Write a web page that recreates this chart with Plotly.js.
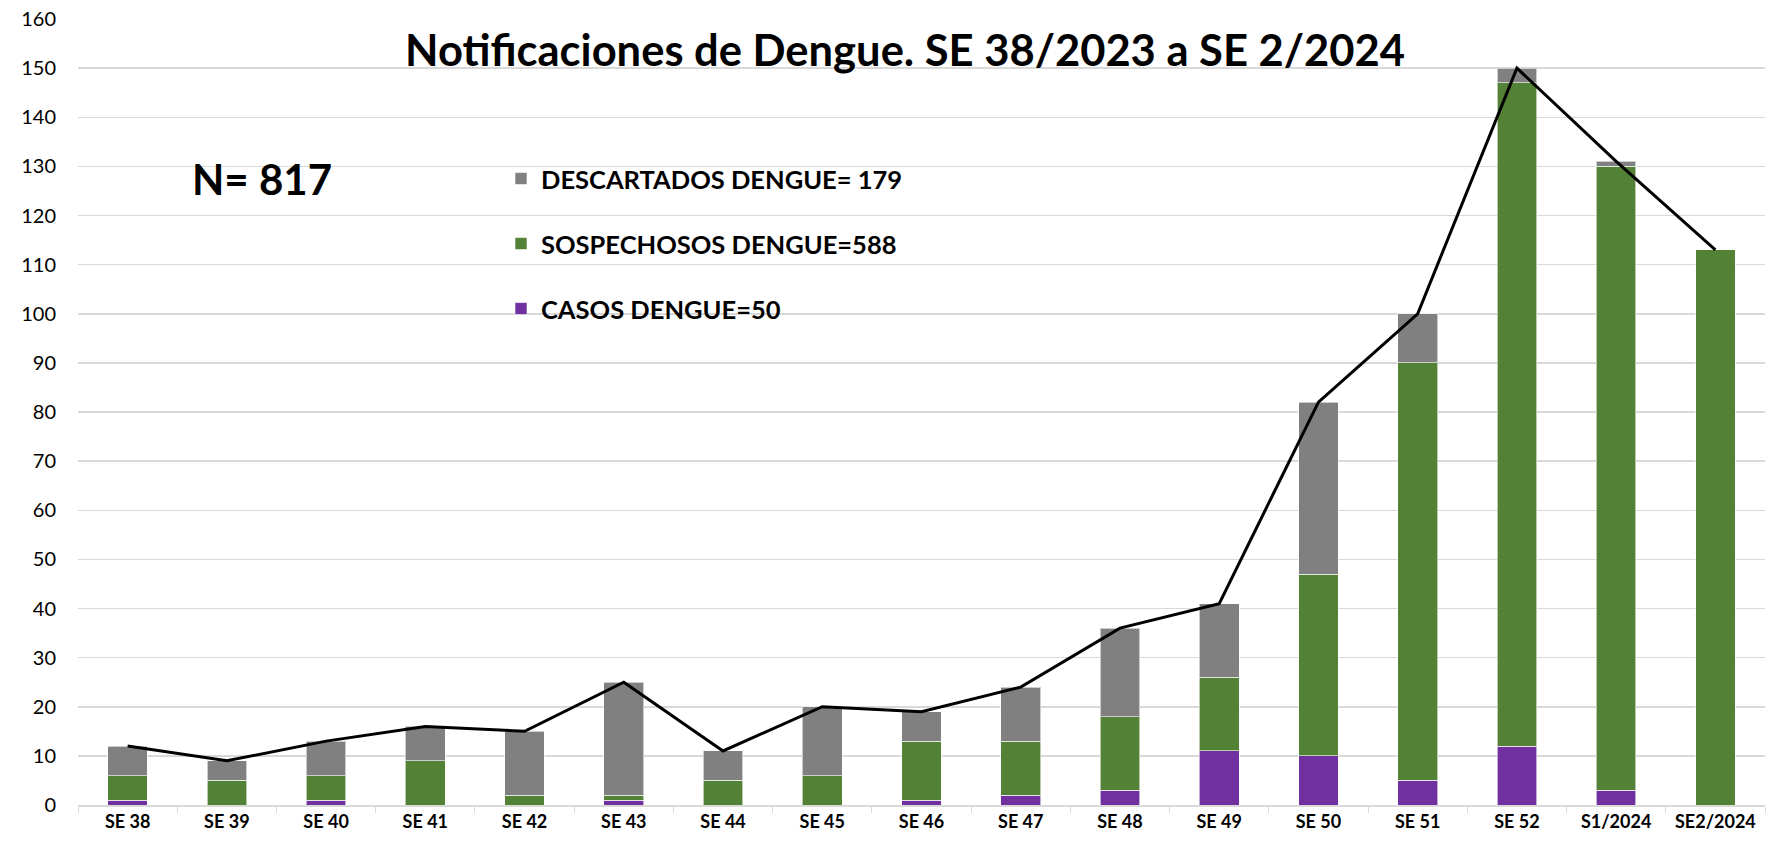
<!DOCTYPE html>
<html>
<head>
<meta charset="utf-8">
<script src="https://cdn.plot.ly/plotly-3.0.1.min.js"></script>
<style>html,body{margin:0;padding:0;background:#fff;}#chart{width:1780px;height:842px;}</style>
</head>
<body>
<div id="chart"></div>
<script>
const categories = ["SE 38","SE 39","SE 40","SE 41","SE 42","SE 43","SE 44","SE 45","SE 46","SE 47","SE 48","SE 49","SE 50","SE 51","SE 52","S1/2024","SE2/2024"];
const casos        = [1,0,1,0,0,1,0,0,1,2,3,11,10,5,12,3,0];
const sospechosos  = [5,5,5,9,2,1,5,6,12,11,15,15,37,85,135,127,113];
const descartados  = [6,4,7,7,13,23,6,14,6,11,18,15,35,10,3,1,0];
const totales      = [12,9,13,16,15,25,11,20,19,24,36,41,82,100,150,131,113];
const yTicks = [0,10,20,30,40,50,60,70,80,90,100,110,120,130,140,150,160];

const FONT = "Lato, 'Liberation Sans', sans-serif";
const barLine = {color: 'rgba(255,255,255,0.6)', width: 1};

const PL = 78, PR = 1765, PT = 19, PB = 805;
const px2x = p => (p - PL) / (PR - PL);
const px2y = p => (PB - p) / (PB - PT);

const traces = [
  {type:'bar', name:'CASOS DENGUE=50', x:categories, y:casos, marker:{color:'#7030A0', line:barLine}, legend:'legend3'},
  {type:'bar', name:'SOSPECHOSOS DENGUE=588', x:categories, y:sospechosos, marker:{color:'#538135', line:barLine}, legend:'legend2'},
  {type:'bar', name:'DESCARTADOS DENGUE= 179', x:categories, y:descartados, marker:{color:'#808080', line:barLine}, legend:'legend'},
  {type:'scatter', mode:'lines', name:'Total', x:categories, y:totales, line:{color:'#000000', width:3}, showlegend:false}
];

const legFont = {family:FONT, size:25.5, color:'#000', weight:'bold'};
function leg(yPix){
  return {x:px2x(501), xref:'paper', y:px2y(yPix), yref:'paper', yanchor:'middle', xanchor:'left',
          bgcolor:'rgba(0,0,0,0)', font:legFont, itemwidth:30, borderwidth:0};
}

const layout = {
  width:1780, height:842,
  margin:{l:PL, r:1780-PR, t:PT, b:842-PB, autoexpand:false},
  paper_bgcolor:'#ffffff', plot_bgcolor:'#ffffff',
  barmode:'stack', bargap:0.6,
  font:{family:FONT, color:'#000'},
  title:{text:'<b>Notificaciones de Dengue. SE 38/2023 a SE 2/2024</b>', font:{family:FONT, size:43.5, color:'#000'},
         x:905/1780, xref:'container', xanchor:'center', y:1-51/842, yref:'container', yanchor:'middle'},
  xaxis:{type:'category', tickfont:{family:FONT, size:18, color:'#000', weight:'bold'},
         showline:true, linecolor:'#d9d9d9', linewidth:1.5, ticks:'outside', tickson:'boundaries',
         ticklen:6, tickcolor:'#d9d9d9', showgrid:false, fixedrange:true},
  yaxis:{range:[0,160], tickvals:yTicks, ticktext:yTicks.map(String), tickfont:{family:FONT, size:20, color:'#000'},
         showgrid:true, gridcolor:'#d9d9d9', gridwidth:1.5, zeroline:false, showline:false, ticks:'', ticklabelstandoff:21},
  showlegend:true,
  legend:leg(179),
  legend2:leg(244),
  legend3:leg(309),
  annotations:[
    {text:'<b>N= 817</b>', x:px2x(190), xref:'paper', xanchor:'left', y:px2y(179), yref:'paper', yanchor:'middle',
     showarrow:false, font:{family:FONT, size:42, color:'#000'}}
  ]
};

Plotly.newPlot('chart', traces, layout, {displayModeBar:false, staticPlot:true});
</script>
</body>
</html>
